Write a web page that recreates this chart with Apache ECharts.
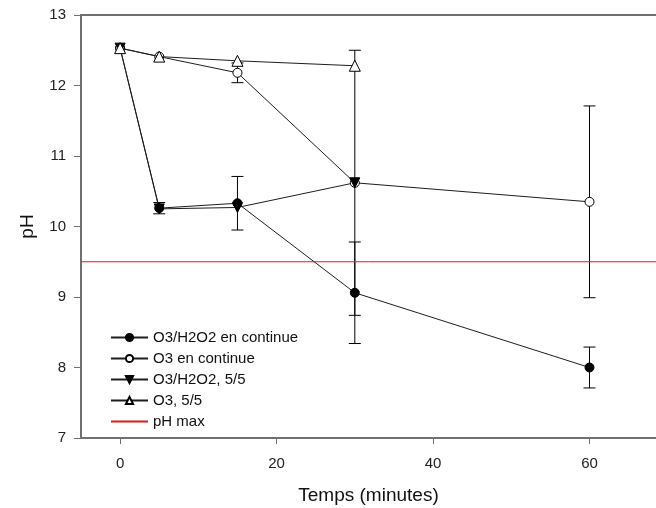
<!DOCTYPE html>
<html>
<head>
<meta charset="utf-8">
<title>pH</title>
<script src="https://cdn.jsdelivr.net/npm/echarts@6/dist/echarts.min.js"></script>
<style>
  html, body { margin: 0; padding: 0; background: #fff; }
  #chart { width: 656px; height: 508px; }
</style>
</head>
<body>
<div id="chart"></div>
<script>
// Sampling times (minutes)
const timesLong = [0, 5, 15, 30, 60];
const timesShort = [0, 5, 15, 30];

// pH measurements and their standard deviations
const o3h2o2Cont = [12.53, 10.26, 10.33, 9.06, 8.00];
const o3h2o2ContErr = [0, 0.08, 0.38, 0.72, 0.29];

const o3Cont = [12.53, 12.41, 12.18, 10.62, 10.35];
const o3ContErr = [0, 0, 0.14, 1.88, 1.36];

const o3h2o2Pulse = [12.53, 10.25, 10.27, 10.62];
const o3Pulse = [12.53, 12.41, 12.35, 12.28];

const phMax = 9.5;

// Axis settings
const xMin = -5, xMax = 68.5;
const xTicks = [0, 20, 40, 60];
const yMin = 7, yMax = 13;

const FONT = '"Liberation Sans", Arial, sans-serif';
const AXIS_COLOR = '#707070';
const LINE_COLOR = '#1e1e1e';
const RED = '#e01818';

function pairs(xs, ys) { return xs.map((x, i) => [x, ys[i]]); }
function errRows(xs, ys, es) {
  const out = [];
  xs.forEach((x, i) => { if (es[i] > 0) out.push([x, ys[i] - es[i], ys[i] + es[i]]); });
  return out;
}

// Vertical error bar with horizontal caps
function renderErr(params, api) {
  const x = api.value(0);
  const lo = api.coord([x, api.value(1)]);
  const hi = api.coord([x, api.value(2)]);
  const cap = 6;
  const style = { stroke: '#000', lineWidth: 1 };
  return {
    type: 'group',
    children: [
      { type: 'line', shape: { x1: lo[0], y1: lo[1], x2: hi[0], y2: hi[1] }, style },
      { type: 'line', shape: { x1: lo[0] - cap, y1: lo[1], x2: lo[0] + cap, y2: lo[1] }, style },
      { type: 'line', shape: { x1: hi[0] - cap, y1: hi[1], x2: hi[0] + cap, y2: hi[1] }, style }
    ]
  };
}

const errData = errRows(timesLong, o3h2o2Cont, o3h2o2ContErr)
  .concat(errRows(timesLong, o3Cont, o3ContErr));

const filled = { color: '#000', borderColor: '#000', borderWidth: 1 };
const hollow = { color: '#fff', borderColor: '#000', borderWidth: 1 };

const chart = echarts.init(document.getElementById('chart'), null, { renderer: 'canvas' });

chart.setOption({
  animation: false,
  backgroundColor: '#fff',
  textStyle: { fontFamily: FONT },
  grid: { left: 81, top: 15, right: 0, bottom: 70, containLabel: false, outerBoundsMode: 'none' },
  legend: {
    orient: 'vertical',
    left: 105,
    top: 325,
    itemWidth: 37,
    itemHeight: 9,
    itemGap: 6,
    textStyle: { fontFamily: FONT, fontSize: 15, color: '#111' },
    data: ['O3/H2O2 en continue', 'O3 en continue', 'O3/H2O2, 5/5', 'O3, 5/5', 'pH max']
  },
  xAxis: [{
    type: 'value',
    min: xMin,
    max: xMax,
    name: 'Temps (minutes)',
    nameLocation: 'middle',
    nameGap: 48,
    nameTextStyle: { fontFamily: FONT, fontSize: 19, color: '#111' },
    axisLine: { show: true, onZero: false, lineStyle: { color: AXIS_COLOR, width: 2 } },
    axisTick: { show: true, length: 6, customValues: xTicks, lineStyle: { color: AXIS_COLOR, width: 1 } },
    axisLabel: { customValues: xTicks, margin: 18, fontSize: 15, color: '#222', fontFamily: FONT },
    splitLine: { show: false }
  }, {
    type: 'value',
    position: 'top',
    min: xMin,
    max: xMax,
    axisLine: { show: true, onZero: false, lineStyle: { color: AXIS_COLOR, width: 2 } },
    axisTick: { show: false },
    axisLabel: { show: false },
    splitLine: { show: false }
  }],
  yAxis: {
    type: 'value',
    min: yMin,
    max: yMax,
    interval: 1,
    name: 'pH',
    nameLocation: 'middle',
    nameGap: 44,
    nameRotate: 90,
    nameTextStyle: { fontFamily: FONT, fontSize: 19, color: '#111' },
    axisLine: { show: true, onZero: false, lineStyle: { color: AXIS_COLOR, width: 2 } },
    axisTick: { show: true, length: 7, lineStyle: { color: AXIS_COLOR, width: 1 } },
    axisLabel: { margin: 15, fontSize: 15, color: '#222', fontFamily: FONT },
    splitLine: { show: false }
  },
  series: [
    {
      name: 'errors',
      type: 'custom',
      renderItem: renderErr,
      data: errData,
      encode: { x: 0, y: [1, 2] },
      z: 1,
      silent: true
    },
    {
      // threshold line; its marker is transparent so the legend shows a plain red line
      name: 'pH max',
      type: 'line',
      data: [[xMin, phMax], [xMax, phMax]],
      symbol: 'circle',
      showSymbol: false,
      lineStyle: { color: RED, width: 1 },
      itemStyle: { color: 'rgba(0,0,0,0)', borderWidth: 0 },
      z: 1
    },
    {
      name: 'O3/H2O2 en continue',
      type: 'line',
      data: pairs(timesLong, o3h2o2Cont),
      symbol: 'circle',
      symbolSize: 9,
      lineStyle: { color: LINE_COLOR, width: 1 },
      itemStyle: filled,
      z: 3
    },
    {
      name: 'O3 en continue',
      type: 'line',
      data: pairs(timesLong, o3Cont),
      symbol: 'circle',
      symbolSize: 9,
      lineStyle: { color: LINE_COLOR, width: 1 },
      itemStyle: hollow,
      z: 3
    },
    {
      name: 'O3/H2O2, 5/5',
      type: 'line',
      data: pairs(timesShort, o3h2o2Pulse),
      symbol: 'triangle',
      symbolRotate: 180,
      symbolSize: 10,
      lineStyle: { color: LINE_COLOR, width: 1 },
      itemStyle: filled,
      z: 3
    },
    {
      name: 'O3, 5/5',
      type: 'line',
      data: pairs(timesShort, o3Pulse),
      symbol: 'triangle',
      symbolSize: 11,
      lineStyle: { color: LINE_COLOR, width: 1 },
      itemStyle: hollow,
      z: 4
    }
  ]
});
</script>
</body>
</html>
